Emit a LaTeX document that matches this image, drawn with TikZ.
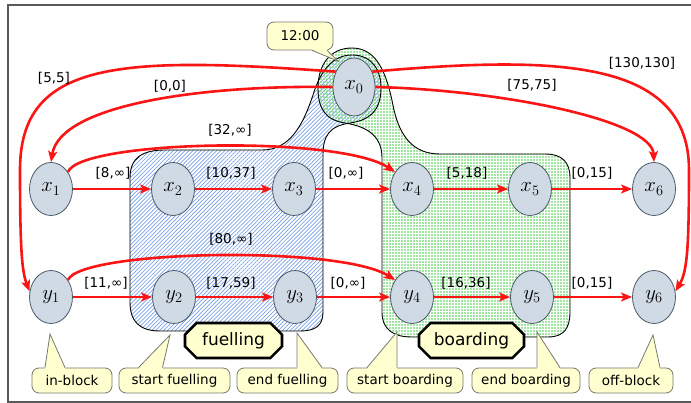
\documentclass[tikz,border=0pt]{standalone}
\usepackage{fontspec}
\setmainfont{DejaVu Sans}
\usetikzlibrary{arrows.meta,shapes.misc,shapes.geometric,patterns.meta,calc}
\definecolor{nodefill}{RGB}{208,218,228}
\definecolor{nodeline}{RGB}{75,90,105}
\definecolor{callfill}{RGB}{255,255,208}
\definecolor{callline}{RGB}{120,120,110}
\definecolor{arrred}{RGB}{250,20,20}
\definecolor{hatchblue}{RGB}{120,160,230}
\definecolor{dotgreen}{RGB}{130,220,130}
\definecolor{framegray}{RGB}{90,90,90}
\newcommand\callptr[4]{%
  \fill[callfill] ([xshift=#2pt,yshift=-1.2pt]#1.north) -- (#4) -- ([xshift=#3pt,yshift=-1.2pt]#1.north) -- cycle;
  \draw[callline,line width=0.8pt] ([xshift=#2pt]#1.north) -- (#4) -- ([xshift=#3pt]#1.north);}
\begin{document}
\begin{tikzpicture}[x=1pt,y=-1pt,
  ev/.style={ellipse, draw=nodeline, fill=nodefill, line width=0.8pt,
    minimum width=43pt, minimum height=53pt, inner sep=0pt,
    font=\fontsize{21}{24}\selectfont},
  arr/.style={draw=arrred, line width=2.6pt, -{Stealth[length=11pt,width=9pt,inset=2.5pt]}},
  lab/.style={font=\fontsize{13.5}{16}\selectfont, inner sep=1pt},
  callbox/.style={draw=callline, fill=callfill, line width=0.8pt, rounded corners=7pt,
    minimum height=25pt, inner sep=0pt, font=\fontsize{13.5}{16}\selectfont},
  octo/.style={chamfered rectangle, chamfered rectangle xsep=8pt, draw=black, line width=2.6pt,
    fill=callfill, minimum height=35pt, inner sep=0pt, font=\fontsize{17}{20}\selectfont},
  region/.style={line width=0.9pt, draw=black}
]
\useasboundingbox (0,0) rectangle (691,403);
\draw[framegray, line width=1.5pt] (691,5) -- (8,5) -- (8,402) -- (691,402);

\def\bluepath{(130,178) .. controls (130,158) and (142,150) .. (165,150)
 -- (262,150) .. controls (290,150) and (303,125) .. (313,95)
 .. controls (320,72) and (332,55) .. (352,55)
 .. controls (372,55) and (381,70) .. (381,88)
 .. controls (381,108) and (372,120) .. (350,123)
 .. controls (330,126) and (323,135) .. (323,155)
 -- (323,312) .. controls (323,326) and (315,331) .. (300,331)
 -- (160,331) .. controls (140,331) and (130,322) .. (130,302) -- cycle}
\def\greenpath{(382,158) -- (382,312) .. controls (382,330) and (394,337) .. (412,337)
 -- (548,337) .. controls (564,337) and (570,328) .. (570,312)
 -- (570,178) .. controls (570,162) and (562,154) .. (545,154)
 -- (440,154) .. controls (412,154) and (400,135) .. (394,110)
 .. controls (388,80) and (380,48) .. (352,48)
 .. controls (330,48) and (318,65) .. (318,88)
 .. controls (318,108) and (325,120) .. (345,123)
 .. controls (370,127) and (382,138) .. (382,158) -- cycle}

\path[pattern={Lines[angle=45,distance=2.8pt,line width=0.7pt]}, pattern color=hatchblue] \bluepath;
\path[pattern={Dots[radius=1.15pt,distance=3pt]}, pattern color=dotgreen] \greenpath;
\draw[region] \bluepath;
\draw[region] \greenpath;

% nodes
\node[ev, minimum width=42pt, minimum height=58pt] (x0) at (354,87) {$x_0$};
\node[ev] (x1) at (51,189) {$x_1$};
\node[ev] (x2) at (173,189) {$x_2$};
\node[ev] (x3) at (294,189) {$x_3$};
\node[ev] (x4) at (412,189) {$x_4$};
\node[ev] (x5) at (530,189) {$x_5$};
\node[ev] (x6) at (654,189) {$x_6$};
\node[ev] (y1) at (51,297) {$y_1$};
\node[ev] (y2) at (174,297) {$y_2$};
\node[ev] (y3) at (295,297) {$y_3$};
\node[ev] (y4) at (412,297) {$y_4$};
\node[ev] (y5) at (532,297) {$y_5$};
\node[ev] (y6) at (654,297) {$y_6$};

% straight arrows
\draw[arr] (x1) -- (x2);
\draw[arr] (x2) -- (x3);
\draw[arr] (x3) -- (x4);
\draw[arr] (x4) -- (x5);
\draw[arr] (x5) -- (x6);
\draw[arr] (y1) -- (y2);
\draw[arr] (y2) -- (y3);
\draw[arr] (y3) -- (y4);
\draw[arr] (y4) -- (y5);
\draw[arr] (y5) -- (y6);

% curved arrows
\draw[arr] (x1.45) .. controls (80,140) and (340,135) .. (x4.135);
\draw[arr] (y1.45) .. controls (80,250) and (340,245) .. (y4.135);
\draw[arr] (x0.180) .. controls (200,85) and (60,105) .. (x1.north);
\draw[arr] (x0.140) .. controls (120,56) and (20,60) .. (20,170)
  .. controls (20,250) and (22,272) .. (y1.165);
\draw[arr] (x0.0) .. controls (500,90) and (652,120) .. (x6.north);
\draw[arr] (x0.40) .. controls (560,55) and (689,60) .. (689,170)
  .. controls (689,250) and (687,272) .. (y6.15);

% edge labels
\node[lab] (l1) at (113,173) {[8,∞]};
\node[lab] (l2) at (231,173) {[10,37]};
\node[lab] (l3) at (346,173) {[0,∞]};
\node[lab] (l4) at (467,173) {[5,18]};
\node[lab] (l5) at (592,173) {[0,15]};
\node[lab] (l6) at (106,283) {[11,∞]};
\node[lab] (l7) at (231,283) {[17,59]};
\node[lab] (l8) at (348,283) {[0,∞]};
\node[lab] (l9) at (466,283) {[16,36]};
\node[lab] (l10) at (592,283) {[0,15]};
\node[lab] (l11) at (230,130) {[32,∞]};
\node[lab] (l12) at (231,239) {[80,∞]};
\node[lab] (l13) at (170,86) {[0,0]};
\node[lab] (l14) at (54,78) {[5,5]};
\node[lab] (l15) at (532,85) {[75,75]};
\node[lab] (l16) at (642,63) {[130,130]};

% octagon labels
\node[octo, minimum width=97pt] (fu) at (233.5,340.5) {fuelling};
\node[octo, minimum width=105pt] (bo) at (471.5,340.5) {boarding};

% callouts
\node[callbox, minimum width=66pt, minimum height=28pt] (c0) at (300,36) {12:00};
\coordinate (p0) at (338,61);
\fill[callfill] ([xshift=12pt,yshift=1.2pt]c0.south) -- (p0) -- ([xshift=27pt,yshift=1.2pt]c0.south) -- cycle;
\draw[callline,line width=0.8pt] ([xshift=12pt]c0.south) -- (p0) -- ([xshift=27pt]c0.south);

\node[callbox, minimum width=80pt] (cib) at (72,380.5) {in-block};
\coordinate (pib) at (50,334);
\callptr{cib}{-27}{-7}{pib}
\node[callbox, minimum width=111pt] (csf) at (174.5,380.5) {start fuelling};
\coordinate (psf) at (170,335);
\callptr{csf}{-36}{-12}{psf}
\node[callbox, minimum width=101pt] (cef) at (287.5,380.5) {end fuelling};
\coordinate (pef) at (297,333);
\callptr{cef}{9.5}{34.5}{pef}
\node[callbox, minimum width=116pt] (csb) at (405,380.5) {start boarding};
\coordinate (psb) at (397,332);
\callptr{csb}{-38}{-8}{psb}
\node[callbox, minimum width=108pt] (ceb) at (526,380.5) {end boarding};
\coordinate (peb) at (537,332);
\callptr{ceb}{11}{34}{peb}
\node[callbox, minimum width=84pt] (cob) at (631,380.5) {off-block};
\coordinate (pob) at (653,335);
\callptr{cob}{7}{29}{pob}
\end{tikzpicture}
\end{document}
